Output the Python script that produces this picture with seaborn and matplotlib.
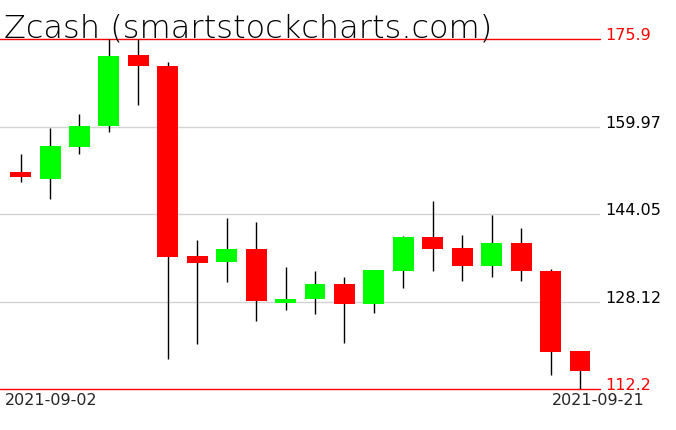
import numpy as np
import seaborn as sns
import matplotlib.pyplot as plt

# daily OHLC, Zcash
dates = ['2021-09-02', '2021-09-03', '2021-09-04', '2021-09-05', '2021-09-06',
         '2021-09-07', '2021-09-08', '2021-09-09', '2021-09-10', '2021-09-11',
         '2021-09-12', '2021-09-13', '2021-09-14', '2021-09-15', '2021-09-16',
         '2021-09-17', '2021-09-18', '2021-09-19', '2021-09-20', '2021-09-21']
opens = [151.7, 150.5, 156.3, 160.1, 173.0, 171.0, 136.4, 135.4, 137.7, 127.9,
         128.5, 131.3, 127.7, 133.7, 139.9, 137.9, 134.5, 138.7, 133.7, 119.1]
closes = [150.7, 156.4, 160.1, 172.8, 171.0, 136.3, 135.2, 137.7, 128.3, 128.6,
          131.3, 127.7, 133.9, 139.9, 137.7, 134.5, 138.7, 133.6, 119.0, 115.5]
highs = [155.0, 159.7, 162.3, 175.9, 175.9, 171.7, 139.3, 143.3, 142.6, 134.4,
         133.7, 132.6, 133.9, 140.1, 146.5, 140.2, 143.9, 141.5, 134.0, 119.2]
lows = [149.9, 146.7, 154.9, 159.0, 163.8, 117.7, 120.3, 131.6, 124.6, 126.5,
        125.9, 120.6, 126.1, 130.6, 133.6, 131.9, 132.6, 131.9, 114.8, 112.2]

y_max = 175.9
y_min = 112.2
y_ticks = [175.9, 159.97, 144.05, 128.12, 112.2]
y_labels = ['175.9', '159.97', '144.05', '128.12', '112.2']

sns.set_style('white')
plt.rcParams['font.family'] = ['DejaVu Sans']

fig = plt.figure(figsize=(6.76, 4.31), dpi=100)
ax = fig.add_axes([0, 1 - 390 / 431, 600 / 676, 350 / 431])

x = np.arange(len(dates))
o = np.array(opens)
c = np.array(closes)
up = c >= o
colors = np.where(up, '#00ff00', '#ff0000')

ax.vlines(x, lows, highs, color='black', lw=1.0, zorder=2)
ax.bar(x, np.abs(c - o), bottom=np.minimum(o, c), width=0.71,
       color=colors, edgecolor='none', zorder=3)

for v in y_ticks[1:-1]:
    ax.axhline(v, color='#d3d3d3', lw=1.0, zorder=1)
ax.axhline(y_max, color='#ff0000', lw=1.0, zorder=1, clip_on=False)
ax.axhline(y_min, color='#ff0000', lw=1.0, zorder=1, clip_on=False)

ax.set_xlim(-0.7, len(dates) - 0.32)
ax.set_ylim(y_min, y_max)
ax.set_xticks([])
ax.yaxis.tick_right()
ax.set_yticks(y_ticks)
ax.set_yticklabels(y_labels, fontsize=11.5)
ax.tick_params(axis='y', length=0, pad=4)
for lbl, v in zip(ax.get_yticklabels(), y_ticks):
    lbl.set_color('#ff0000' if v in (y_max, y_min) else 'black')
    lbl.set_verticalalignment('baseline')
for s in ax.spines.values():
    s.set_visible(False)

fig.text(4 / 676, 1 - 38 / 431, 'Zcash (smartstockcharts.com)', fontsize=23,
         fontweight='light', color='black', va='baseline', ha='left')
fig.text(5 / 676, 1 - 405 / 431, dates[0], fontsize=11.5, va='baseline', ha='left')
fig.text(645 / 676, 1 - 405 / 431, dates[-1], fontsize=11.5, va='baseline', ha='right')

fig.savefig('out.png', dpi=100)
